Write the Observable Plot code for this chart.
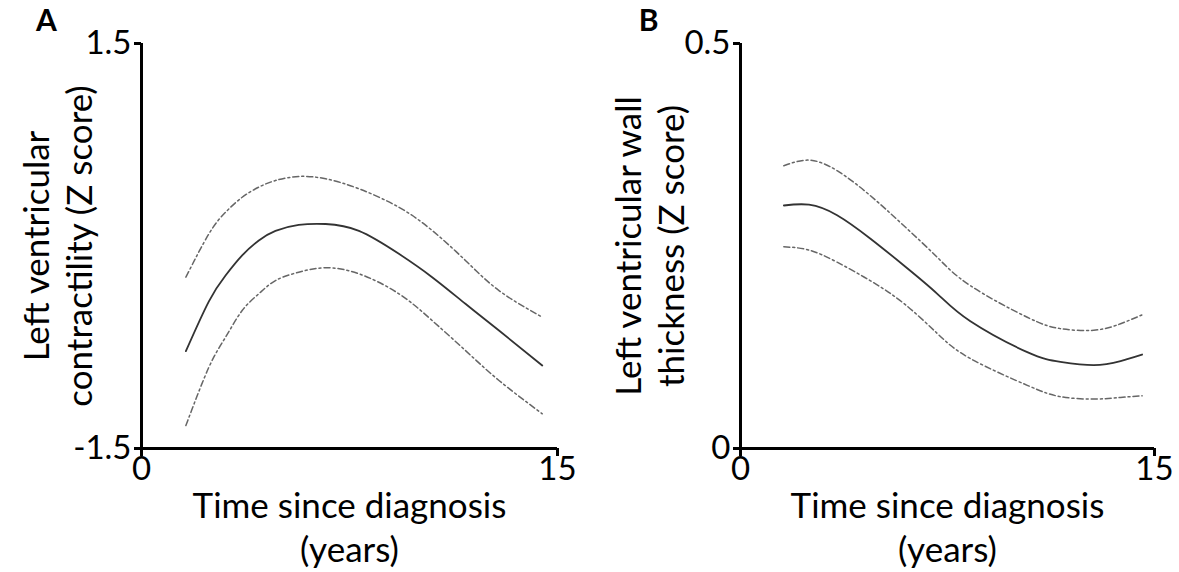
<!DOCTYPE html>
<html>
<head>
<meta charset="utf-8">
<script src="https://cdn.jsdelivr.net/npm/d3@7"></script>
<script src="https://cdn.jsdelivr.net/npm/@observablehq/plot@0.6"></script>
<style>
  body { margin: 0; background: #fff; }
  #wrap { display: flex; width: 1179px; height: 572px; overflow: hidden; }
</style>
</head>
<body>
<div id="wrap"></div>
<script>
// Panel A: left ventricular contractility (Z score), fitted curve with 95% band
const yearsA = [1.6, 2.43, 3.03, 3.63, 4.23, 4.83, 5.67, 6.64, 7.84, 9.28, 10.48, 11.68, 12.89, 14.45];
const meanA  = [-0.779, -0.410, -0.219, -0.070, 0.041, 0.112, 0.156, 0.163, 0.112, -0.058, -0.231, -0.428, -0.626, -0.885];
const upperA = [-0.231, 0.090, 0.250, 0.361, 0.436, 0.485, 0.515, 0.498, 0.424, 0.287, 0.115, -0.107, -0.330, -0.527];
const lowerA = [-1.330, -0.898, -0.676, -0.478, -0.354, -0.256, -0.194, -0.161, -0.206, -0.354, -0.552, -0.774, -0.996, -1.243];

// Panel B: left ventricular wall thickness (Z score)
const yearsB = [1.57, 2.48, 3.50, 4.71, 5.92, 7.13, 8.33, 10.39, 11.59, 12.80, 13.77, 14.55];
const meanB  = [0.300, 0.301, 0.288, 0.259, 0.226, 0.191, 0.157, 0.119, 0.107, 0.103, 0.108, 0.116];
const upperB = [0.349, 0.356, 0.343, 0.312, 0.275, 0.236, 0.201, 0.162, 0.148, 0.146, 0.154, 0.165];
const lowerB = [0.249, 0.245, 0.230, 0.207, 0.179, 0.142, 0.111, 0.078, 0.064, 0.061, 0.063, 0.065];

const xTicks = [0, 15];
const yTicksA = [-1.5, 1.5];
const yTicksB = [0, 0.5];

const FONT = "Lato, 'Open Sans', sans-serif";

function rows(xs, ys) {
  return xs.map((x, i) => ({x, y: ys[i]}));
}

function panel({letter, years, mean, upper, lower, yTicks, yLabel, width, marginLeft, marginRight, yLabelDx, letterDx}) {
  const dashed = {x: "x", y: "y", curve: "natural", stroke: "#666", strokeWidth: 1.5, strokeDasharray: "6,3,2,3"};
  return Plot.plot({
    width,
    height: 572,
    marginLeft,
    marginRight,
    marginTop: 43,
    marginBottom: 124,
    style: {fontFamily: FONT, color: "#000", background: "#fff"},
    x: {domain: [0, 15]},
    y: {domain: [yTicks[0], yTicks[1]]},
    marks: [
      Plot.line(rows(years, upper), dashed),
      Plot.line(rows(years, lower), dashed),
      Plot.line(rows(years, mean), {x: "x", y: "y", curve: "natural", stroke: "#333", strokeWidth: 1.8}),
      Plot.ruleX([0], {stroke: "#000", strokeWidth: 3}),
      Plot.ruleY([yTicks[0]], {stroke: "#000", strokeWidth: 3}),
      Plot.axisY(yTicks, {tickSize: 7, tickPadding: 3, strokeWidth: 3, fontSize: 33, tickFormat: d => String(d), label: null}),
      Plot.axisX(xTicks, {tickSize: 8, tickPadding: 0, strokeWidth: 3, fontSize: 33, tickFormat: d => String(d), label: null}),
      Plot.text([yLabel], {frameAnchor: "left", rotate: -90, dx: yLabelDx, fontSize: 35, lineHeight: 1.23, textAnchor: "middle", lineAnchor: "middle", fill: "#000"}),
      Plot.text(["Time since diagnosis\n(years)"], {frameAnchor: "bottom", dy: 77, fontSize: 35, lineHeight: 1.26, textAnchor: "middle", lineAnchor: "middle", fill: "#000"}),
      Plot.text([letter], {frameAnchor: "top-left", dx: letterDx, dy: -22, fontSize: 30, fontWeight: "bold", textAnchor: "middle", lineAnchor: "middle", fill: "#000"})
    ]
  });
}

const wrap = document.getElementById("wrap");
wrap.append(panel({
  letter: "A", years: yearsA, mean: meanA, upper: upperA, lower: lowerA,
  yTicks: yTicksA, yLabel: "Left ventricular\ncontractility (Z score)",
  width: 590, marginLeft: 141, marginRight: 33, yLabelDx: -84.5, letterDx: -95
}));
wrap.append(panel({
  letter: "B", years: yearsB, mean: meanB, upper: upperB, lower: lowerB,
  yTicks: yTicksB, yLabel: "Left ventricular wall\nthickness (Z score)",
  width: 589, marginLeft: 150, marginRight: 25, yLabelDx: -91.5, letterDx: -92
}));
</script>
</body>
</html>
